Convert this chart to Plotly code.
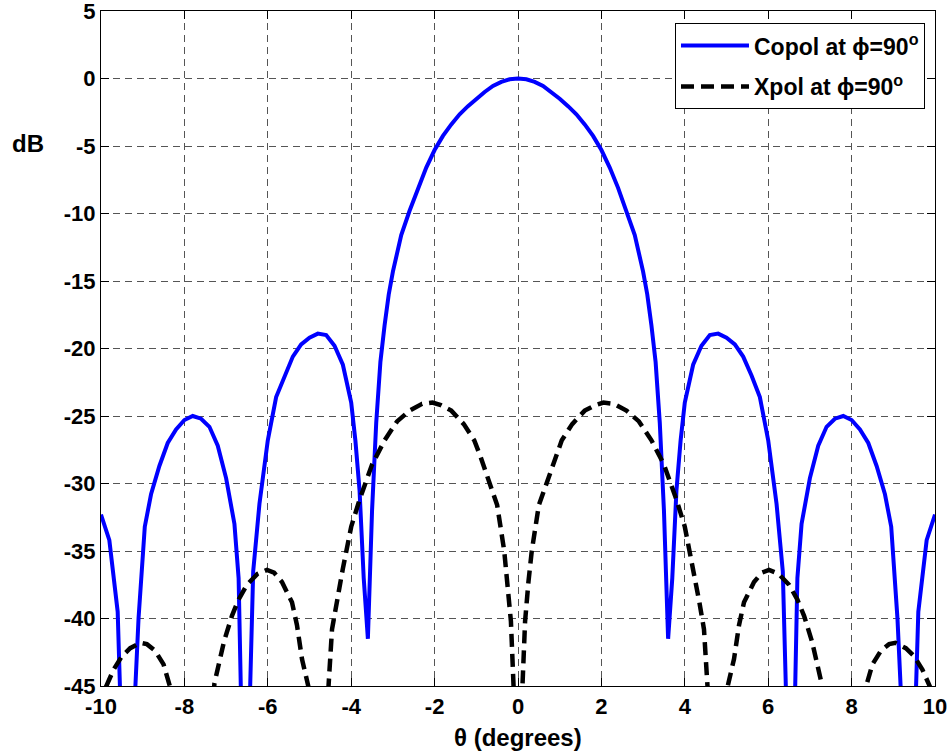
import plotly.graph_objects as go

# Copol at phi=90 (dB) vs theta (deg)
theta_co = [-10.0, -9.8, -9.6, -9.4, -9.1, -8.95, -8.8, -8.6, -8.4, -8.2, -8.0, -7.8, -7.6, -7.4,
            -7.2, -7.0, -6.8, -6.7, -6.55, -6.35, -6.2, -6.0, -5.8, -5.6, -5.4, -5.2, -5.0, -4.8,
            -4.6, -4.4, -4.2, -4.0, -3.9, -3.8, -3.7, -3.6, -3.5, -3.4, -3.3, -3.2, -3.1, -3.0,
            -2.8, -2.6, -2.4, -2.2, -2.0, -1.8, -1.6, -1.4, -1.2, -1.0, -0.8, -0.6, -0.4, -0.2,
            0.0,
            0.2, 0.4, 0.6, 0.8, 1.0, 1.2, 1.4, 1.6, 1.8, 2.0, 2.2, 2.4, 2.6, 2.8, 3.0, 3.1, 3.2,
            3.3, 3.4, 3.5, 3.6, 3.7, 3.8, 3.9, 4.0, 4.2, 4.4, 4.6, 4.8, 5.0, 5.2, 5.4, 5.6, 5.8,
            6.0, 6.2, 6.35, 6.55, 6.7, 6.8, 7.0, 7.2, 7.4, 7.6, 7.8, 8.0, 8.2, 8.4, 8.6, 8.8,
            8.95, 9.1, 9.4, 9.6, 9.8, 10.0]
copol_db = [-32.3, -34.2, -39.5, -60.0, -40.0, -33.2, -30.8, -28.7, -27.0, -26.0, -25.3, -25.0, -25.2, -25.8,
            -27.2, -29.6, -33.0, -37.0, -60.0, -36.5, -31.5, -26.8, -23.6, -22.0, -20.6, -19.7, -19.2, -18.9,
            -19.0, -19.8, -21.2, -24.0, -26.8, -30.5, -37.0, -41.5, -32.0, -25.5, -21.0, -18.3, -16.0, -14.3,
            -11.6, -9.8, -8.1, -6.6, -5.3, -4.25, -3.4, -2.65, -2.05, -1.5, -1.0, -0.55, -0.25, -0.06,
            0.0,
            -0.06, -0.25, -0.55, -1.0, -1.5, -2.05, -2.65, -3.4, -4.25, -5.3, -6.6, -8.1, -9.8, -11.6, -14.3, -16.0, -18.3,
            -21.0, -25.5, -32.0, -41.5, -37.0, -30.5, -26.8, -24.0, -21.2, -19.8, -19.0, -18.9, -19.2, -19.7, -20.6, -22.0, -23.6,
            -26.8, -31.5, -36.5, -60.0, -37.0, -33.0, -29.6, -27.2, -25.8, -25.2, -25.0, -25.3, -26.0, -27.0, -28.7, -30.8,
            -33.2, -40.0, -60.0, -39.5, -34.2, -32.3]

# Xpol at phi=90 (dB) vs theta (deg)
theta_x = [-10.0, -9.9, -9.7, -9.5, -9.3, -9.05, -8.9, -8.7, -8.5, -8.35, -7.8, -7.28, -7.05, -6.86,
           -6.7, -6.5, -6.25, -6.02, -5.85, -5.66, -5.42, -5.3, -5.18, -5.03, -4.8, -4.55, -4.46,
           -4.35, -4.2, -4.0, -3.8, -3.5, -3.2, -2.9, -2.6, -2.3, -2.05, -1.85, -1.6, -1.3, -1.05,
           -0.9, -0.7, -0.5, -0.33, -0.25, -0.17, -0.1, 0.0,
           0.1, 0.17, 0.25, 0.33, 0.5, 0.7, 0.9, 1.05, 1.3, 1.6, 1.85, 2.05, 2.3, 2.6, 2.9, 3.2,
           3.5, 3.8, 4.0, 4.2, 4.35, 4.46, 4.55, 4.8, 5.03, 5.18, 5.3, 5.42, 5.66, 5.85, 6.02,
           6.25, 6.5, 6.7, 6.86, 7.05, 7.28, 7.8, 8.35, 8.5, 8.7, 8.9, 9.05, 9.3, 9.5, 9.7, 9.9, 10.0]
xpol_db = [-46.5, -45.2, -43.8, -42.8, -42.2, -41.8, -41.9, -42.4, -43.4, -45.0, -70.0, -44.8, -41.7, -39.8,
           -38.6, -37.5, -36.7, -36.4, -36.6, -37.3, -38.8, -40.5, -43.0, -45.0, -70.0, -45.3, -40.8,
           -38.8, -36.3, -33.2, -31.2, -28.6, -26.8, -25.4, -24.6, -24.1, -24.0, -24.2, -24.6, -25.6, -26.8,
           -28.0, -29.8, -31.6, -35.0, -37.3, -40.2, -45.5, -60.0,
           -45.5, -40.2, -37.3, -35.0, -31.6, -29.8, -28.0, -26.8, -25.6, -24.6, -24.2, -24.0, -24.1, -24.6, -25.4, -26.8,
           -28.6, -31.2, -33.2, -36.3, -38.8, -40.8, -45.3, -70.0, -45.0, -43.0, -40.5, -38.8, -37.3, -36.6, -36.4,
           -36.7, -37.5, -38.6, -39.8, -41.7, -44.8, -70.0, -45.0, -43.4, -42.4, -41.9, -41.8, -42.2, -42.8, -43.8, -45.2, -46.5]

x_ticks = [-10, -8, -6, -4, -2, 0, 2, 4, 6, 8, 10]
y_ticks = [-45, -40, -35, -30, -25, -20, -15, -10, -5, 0, 5]

FONT = "Liberation Sans"

fig = go.Figure()
fig.add_trace(go.Scatter(x=theta_co, y=copol_db, mode="lines",
                         name="Copol at \u03d5=90<sup>o</sup>", legendgroup="co",
                         line=dict(color="#0000FF", width=4)))
fig.add_trace(go.Scatter(x=theta_x, y=xpol_db, mode="lines",
                         name="Xpol at \u03d5=90<sup>o</sup>", legendgroup="x",
                         line=dict(color="#000000", width=4.5, dash="13px,7px")))

axis_common = dict(
    showline=True, linecolor="black", linewidth=1.3, mirror="ticks",
    ticks="inside", ticklen=8, tickcolor="black", tickwidth=1,
    showgrid=True, gridcolor="#555555", gridwidth=1, griddash="7px,5px",
    zeroline=False, automargin=False, ticklabeloverflow="allow",
    tickfont=dict(family=FONT, size=22, color="black", weight="bold"),
)

fig.update_xaxes(range=[-10, 10], tickvals=x_ticks, ticktext=[str(v) for v in x_ticks], **axis_common)
fig.update_yaxes(range=[-45, 5], tickvals=y_ticks, ticktext=[str(v) for v in y_ticks], **axis_common)

fig.update_layout(
    width=950, height=755,
    margin=dict(l=101, r=15, t=11, b=69),
    paper_bgcolor="white", plot_bgcolor="white",
    showlegend=True,
    legend=dict(x=0.988, y=0.982, xanchor="right", yanchor="top",
                bgcolor="white", bordercolor="black", borderwidth=1,
                font=dict(family=FONT, size=23, color="black", weight="bold"),
                itemwidth=68, tracegroupgap=8),
    annotations=[
        dict(text="dB", xref="paper", yref="paper", x=-0.087, y=0.803,
             xanchor="center", yanchor="middle", showarrow=False,
             font=dict(family=FONT, size=24, color="black", weight="bold")),
        dict(text="\u03b8 (degrees)", xref="paper", yref="paper", x=0.5, y=0,
             xanchor="center", yanchor="top", yshift=-36, showarrow=False,
             font=dict(family=FONT, size=24, color="black", weight="bold")),
    ],
)

fig.write_html("out.html", config={"displayModeBar": False},
               post_script="document.body.style.margin='0px';document.body.style.overflow='hidden';")
